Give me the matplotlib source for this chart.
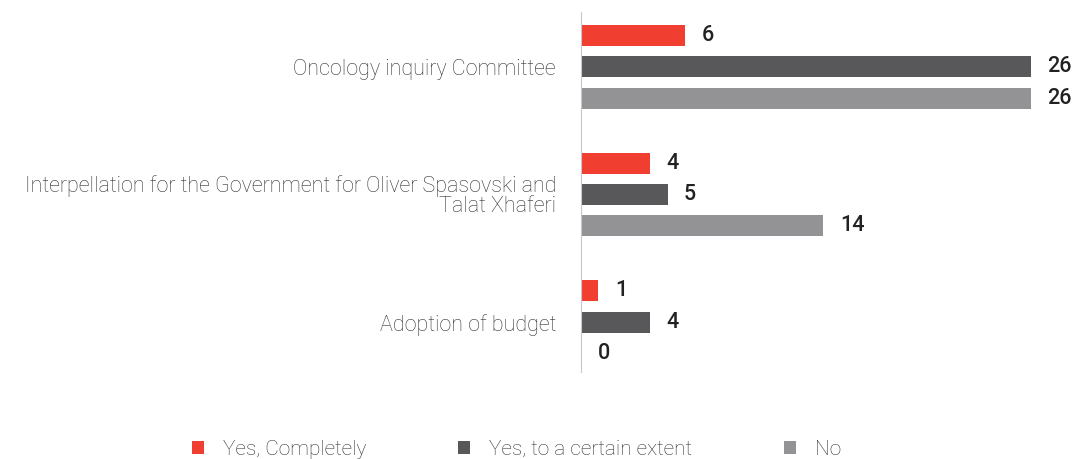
import matplotlib.pyplot as plt
import numpy as np

categories = ["Oncology inquiry Committee",
              "Interpellation for the Government for Oliver Spasovski and\nTalat Xhaferi",
              "Adoption of budget"]
series = ["Yes, Completely", "Yes, to a certain extent", "No"]
completely = [6, 4, 1]
certain = [26, 5, 4]
no = [26, 14, 0]
colors = ["#F03E30", "#58585A", "#939396"]

plt.rcParams['font.family'] = ['Roboto', 'DejaVu Sans']

fig = plt.figure(figsize=(10.76, 4.59), dpi=100)
ax = fig.add_axes([0.54, 0.1895, 0.4182, 0.7844])

y = np.arange(len(categories))
offset = 0.246
h = 0.164
bars = []
for i, (vals, col) in enumerate(zip([completely, certain, no], colors)):
    pos = y + (i - 1) * offset
    b = ax.barh(pos, vals, height=h, color=col, label=series[i])
    bars.append(b)
    for p, v in zip(pos, vals):
        ax.text(v + 0.95, p, str(v), va='center', ha='left',
                fontsize=15.5, fontweight='medium', color='#222222')

ax.set_xlim(0, 26)
ax.set_ylim(2.39, -0.43)
ax.set_yticks(y)
ax.set_yticklabels(categories, fontsize=15.5, fontweight='light', color='#333333',
                   linespacing=0.9)
ax.tick_params(axis='y', length=0, pad=18)
ax.set_xticks([])
for s in ['top', 'right', 'bottom']:
    ax.spines[s].set_visible(False)
ax.spines['left'].set_color('#C8C8C8')

leg = fig.legend(handles=bars, labels=series, loc='lower center', ncol=3,
                 bbox_to_anchor=(0.48, -0.04), frameon=False,
                 prop={'size': 15, 'weight': 'light'},
                 handlelength=0.6, handleheight=0.6, columnspacing=4.4,
                 handletextpad=0.9)
for t in leg.get_texts():
    t.set_color('#333333')

fig.savefig("out.png", dpi=100)
